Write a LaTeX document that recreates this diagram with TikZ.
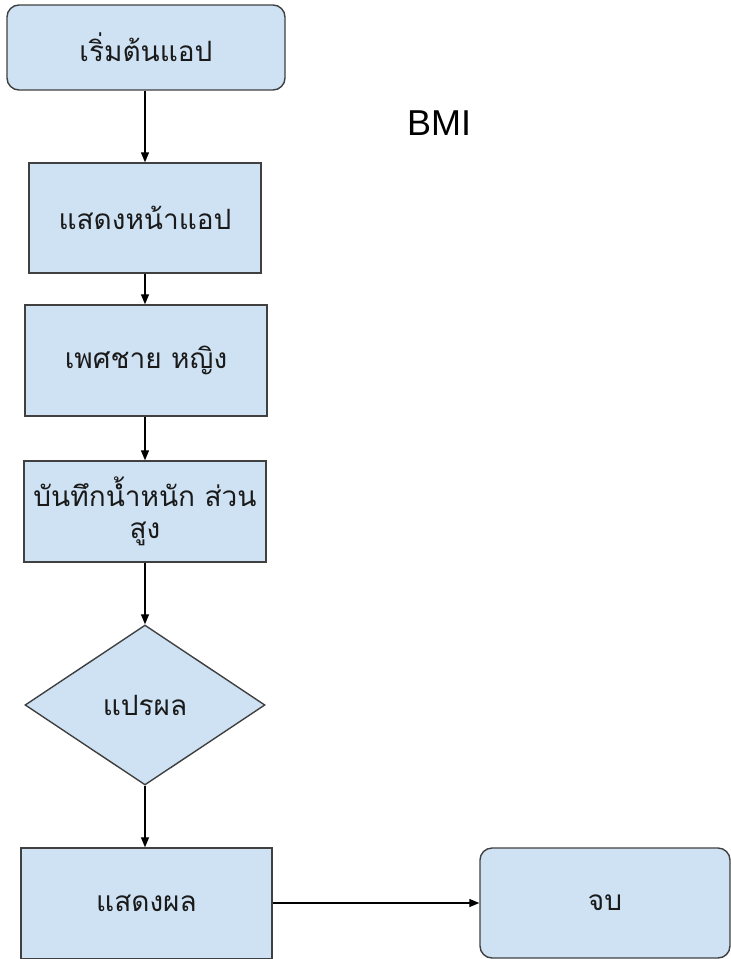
\documentclass[tikz,border=0pt]{standalone}
\usepackage{fontspec}
\setmainfont{Liberation Sans}
\newfontfamily\thai[Script=Thai]{Loma}
\usetikzlibrary{shapes.geometric,arrows.meta}
\definecolor{boxfill}{HTML}{CFE2F3}
\definecolor{boxline}{HTML}{404040}
\definecolor{txt}{HTML}{1A1A1A}
\begin{document}
\begin{tikzpicture}[x=1pt,y=-1pt,
  base/.style={draw=boxline,fill=boxfill,line width=1.4pt,inner sep=0pt,text=txt,font=\thai\fontsize{28}{32}\selectfont},
  rbox/.style={base,rectangle,rounded corners=12pt},
  sbox/.style={base,rectangle},
  dbox/.style={base,diamond},
  arr/.style={line width=1.3pt,draw=black,-{Triangle[length=10pt,width=8pt]}}]
\useasboundingbox (0,0) rectangle (731,959);
\node[rbox,minimum width=278pt,minimum height=85pt] (start) at (146,47.5) {เริ่มต้นแอป};
\node[sbox,minimum width=232pt,minimum height=110pt] (show) at (145,218) {แสดงหน้าแอป};
\node[sbox,minimum width=242pt,minimum height=111pt] (sex) at (146,360.5) {เพศชาย หญิง};
\node[sbox,minimum width=242pt,minimum height=101pt,align=center] (rec) at (145,511.5) {บันทึกน้ำหนัก ส่วน\\สูง};
\node[dbox,minimum width=240pt,minimum height=160pt] (calc) at (145,705) {แปรผล};
\node[sbox,minimum width=251pt,minimum height=111pt] (res) at (146.5,903.5) {แสดงผล};
\node[rbox,minimum width=250pt,minimum height=110pt] (fin) at (605,903) {จบ};
\node[font=\fontsize{36}{40}\selectfont,text=black] (bmi) at (439,123) {BMI};
\draw[arr] (start.south -| show.north) -- (show.north);
\draw[arr] (show.south) -- (show.south |- sex.north);
\draw[arr] (sex.south -| show.south) -- (show.south |- rec.north);
\draw[arr] (rec.south) -- (calc.north);
\draw[arr] (calc.south) -- (calc.south |- res.north);
\draw[arr] (res.east |- fin.west) -- (fin.west);
\end{tikzpicture}
\end{document}
